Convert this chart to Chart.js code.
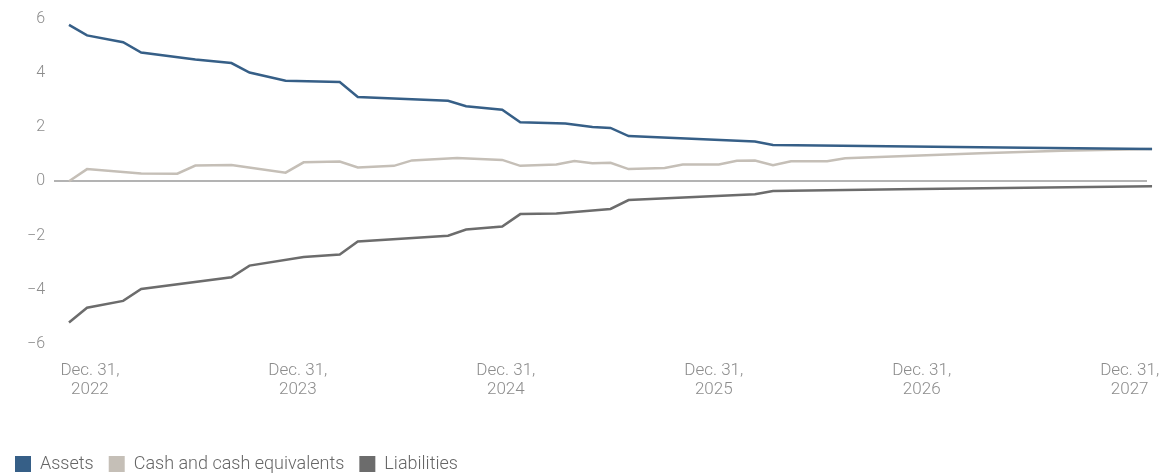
<!DOCTYPE html>
<html>
<head>
<meta charset="utf-8">
<script src="https://cdn.jsdelivr.net/npm/chart.js@4"></script>
<style>
  html, body { margin: 0; padding: 0; background: #fff; }
  #wrap { width: 1169px; height: 475px; }
</style>
</head>
<body>
<div id="wrap"><canvas id="balanceChart"></canvas></div>
<script>
  // month offsets from the start of the series, and values read at each bend
  var assetsMonths = [0, 1, 3, 4, 7, 9, 10, 12, 15, 16, 21, 22, 24, 25, 27.5, 29, 30, 31, 38, 39, 53, 60];
  var assetsValues = [5.77, 5.38, 5.13, 4.75, 4.49, 4.36, 4.01, 3.71, 3.66, 3.11, 2.97, 2.77, 2.64, 2.18, 2.13, 2.0, 1.97, 1.67, 1.47, 1.34, 1.24, 1.19];

  var cashMonths = [0, 1, 4, 6, 7, 9, 12, 13, 15, 16, 18, 19, 21.5, 24, 25, 27, 28, 29, 30, 31, 33, 34, 36, 37, 38, 39, 40, 42, 43, 50.5, 55, 60];
  var cashValues = [0.0, 0.45, 0.29, 0.28, 0.58, 0.60, 0.32, 0.70, 0.73, 0.51, 0.57, 0.77, 0.86, 0.79, 0.57, 0.62, 0.75, 0.67, 0.68, 0.45, 0.49, 0.62, 0.62, 0.76, 0.77, 0.59, 0.74, 0.74, 0.85, 1.03, 1.13, 1.19];

  var liabMonths = [0, 1, 3, 4, 9, 10, 13, 15, 16, 21, 22, 24, 25, 27, 30, 31, 38, 39, 46, 60];
  var liabValues = [-5.21, -4.66, -4.41, -3.97, -3.54, -3.11, -2.79, -2.70, -2.22, -2.01, -1.78, -1.67, -1.21, -1.19, -1.02, -0.69, -0.48, -0.36, -0.29, -0.18];

  var tickMonths = [1.16, 12.68, 24.2, 35.72, 47.24, 58.76];
  var tickLabels = [
    ['Dec. 31,', '2022'],
    ['Dec. 31,', '2023'],
    ['Dec. 31,', '2024'],
    ['Dec. 31,', '2025'],
    ['Dec. 31,', '2026'],
    ['Dec. 31,', '2027']
  ];
  var yTicks = [-6, -4, -2, 0, 2, 4, 6];

  function toPoints(xs, ys) {
    return xs.map(function (x, i) { return { x: x, y: ys[i] }; });
  }

  Chart.defaults.font.family = 'Roboto, "Liberation Sans", sans-serif';
  Chart.defaults.font.weight = '300';
  Chart.defaults.color = '#8c8c8c';

  function lineSet(label, color, pts) {
    return {
      label: label,
      data: pts,
      borderColor: color,
      backgroundColor: color,
      borderWidth: 2.5,
      pointRadius: 0,
      tension: 0,
      clip: false
    };
  }

  new Chart(document.getElementById('balanceChart'), {
    type: 'line',
    data: {
      datasets: [
        lineSet('Assets', '#365f87', toPoints(assetsMonths, assetsValues)),
        lineSet('Cash and cash equivalents', '#c5bfb7', toPoints(cashMonths, cashValues)),
        lineSet('Liabilities', '#6c6c6c', toPoints(liabMonths, liabValues))
      ]
    },
    options: {
      responsive: true,
      maintainAspectRatio: false,
      animation: false,
      layout: { padding: { top: 17, left: 0, right: 22, bottom: -8 } },
      plugins: {
        tooltip: { enabled: false },
        legend: {
          position: 'bottom',
          align: 'start',
          labels: {
            boxWidth: 16,
            boxHeight: 16,
            padding: 15,
            color: '#666',
            font: { size: 18 },
            generateLabels: function (chart) {
              return Chart.defaults.plugins.legend.labels.generateLabels(chart).map(function (l) {
                l.lineWidth = 0;
                return l;
              });
            }
          }
        }
      },
      scales: {
        x: {
          type: 'linear',
          min: -0.83,
          max: 59.72,
          grid: { display: false, drawTicks: false },
          border: { display: false },
          afterBuildTicks: function (scale) {
            scale.ticks = tickMonths.map(function (v) { return { value: v }; });
          },
          afterFit: function (scale) {
            scale.height = 96;
            scale.paddingLeft = 0;
            scale.paddingRight = 0;
          },
          ticks: {
            autoSkip: false,
            maxRotation: 0,
            padding: 17,
            font: { size: 17, lineHeight: '19px' },
            callback: function (value, index) { return tickLabels[index]; }
          }
        },
        y: {
          min: -6,
          max: 6,
          afterBuildTicks: function (scale) {
            scale.ticks = yTicks.map(function (v) { return { value: v }; });
          },
          afterFit: function (scale) { scale.width = 54; },
          border: { display: false },
          grid: {
            drawTicks: false,
            lineWidth: 2,
            color: function (ctx) { return ctx.tick && ctx.tick.value === 0 ? '#b3b3b3' : 'rgba(0,0,0,0)'; }
          },
          ticks: {
            padding: 9,
            font: { size: 16 },
            callback: function (v) { return v < 0 ? '\u2212' + Math.abs(v) : String(v); }
          }
        }
      }
    }
  });
</script>
</body>
</html>
